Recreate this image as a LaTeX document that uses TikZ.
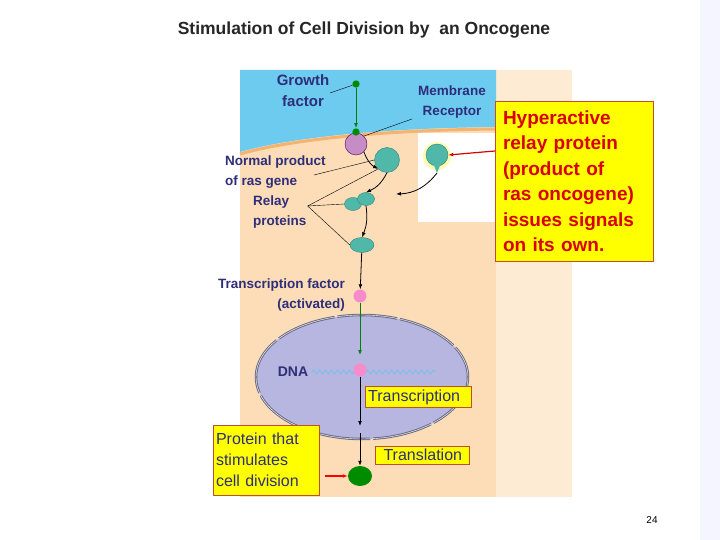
\documentclass[tikz,border=0pt]{standalone}
\usepackage{fontspec}
\setmainfont{Liberation Sans}
\usetikzlibrary{arrows.meta, positioning, decorations.pathmorphing, shapes.geometric}
\definecolor{peach}{HTML}{FCDDB8}
\definecolor{sky}{HTML}{6ECBF0}
\definecolor{membr}{HTML}{F4B36E}
\definecolor{navy}{HTML}{2E2E7A}
\definecolor{teal1}{HTML}{4FB8A8}
\definecolor{lav}{HTML}{B6B6E0}
\definecolor{yel}{HTML}{FFFF00}
\definecolor{boxred}{HTML}{C0502A}
\tikzset{
    lbl/.style={font=\fontsize{13.5}{20}\selectfont\bfseries, text=navy, inner sep=1pt},
    note/.style={fill=yel, draw=boxred, font=\fontsize{16}{21}\selectfont, align=left, inner sep=3pt},
    flow/.style={-{Latex[length=5pt]}, thick},
    lead/.style={thin},
    prot/.style={fill=teal1, draw=teal1!70!black, thin}
}
\begin{document}
\begin{tikzpicture}[x=1pt, y=-1pt]
        \useasboundingbox (0,0) rectangle (720,540);
        \fill[blue!4] (700,0) rectangle (720,540);
        \node[font=\fontsize{17.5}{20}\selectfont\bfseries, text=black!85] (title) at (364,30)
            {Stimulation of Cell Division by\ \ an Oncogene};
        % cell
        \fill[peach!60] (490,70) rectangle (572,497);
        \fill[peach] (240,70) rectangle (496,497);
        \fill[sky] (240,70) -- (496,70) -- (496,127)
            .. controls (400,128) and (300,135) .. (240,152) -- cycle;
        \draw[membr, line width=3pt] (496,129)
            .. controls (400,130) and (300,137) .. (240,154);
        % nucleus
        \draw[lav!60!black, line width=2.5pt, fill=lav, dash pattern=on 60pt off 3pt]
            (362,377) ellipse [x radius=106, y radius=62];
        \draw[white, thin, dash pattern=on 60pt off 3pt]
            (362,377) ellipse [x radius=106, y radius=62];
        \draw[cyan!70, decorate, decoration={zigzag, amplitude=2pt, segment length=6pt}]
            (312,372) -- (436,372);
        \node[lbl, font=\fontsize{14}{16}\selectfont\bfseries] (dna) at (293,372) {DNA};
        % side box
        \fill[white] (418,133) rectangle (497,222);
        \node[note, text=red!85!black, font=\fontsize{19}{25.5}\selectfont\bfseries,
            text width=142pt, minimum height=160pt, inner xsep=8pt] (hyper) at (574,181)
            {Hyperactive\\relay protein\\(product of\\ras oncogene)\\issues signals\\on its own.};
        % proteins
        \node[circle, fill=green!55!black, inner sep=2.6pt] (gf) at (356,84) {};
        \node[circle, fill=violet!45, draw=violet!60!black, thin, minimum size=22pt] (rec) at (356,144) {};
        \node[circle, fill=green!55!black, inner sep=2.6pt] (gfb) at (356,132) {};
        \node[circle, prot, minimum size=25pt] (ras) at (387,160) {};
        \fill[yellow!40, opacity=0.8] (437,156) circle (14);
        \node[circle, prot, minimum size=22pt] (hras) at (437,155) {};
        \fill[teal1] (433,163) -- (441,163) -- (437,173) -- cycle;
        \coordinate (htip) at (437,173);
        \node[ellipse, prot, minimum width=17pt, minimum height=13pt] (rel1a) at (353,204) {};
        \node[ellipse, prot, minimum width=17pt, minimum height=13pt] (rel1b) at (366,199) {};
        \node[ellipse, prot, minimum width=24pt, minimum height=15pt] (rel2) at (362,245) {};
        \node[circle, fill=magenta!45, minimum size=13pt, inner sep=0pt] (tf) at (360,296) {};
        \node[circle, fill=magenta!45, minimum size=13pt, inner sep=0pt] (tfd) at (360,370) {};
        \node[ellipse, fill=green!55!black, minimum width=24pt, minimum height=20pt] (prod) at (360,476) {};
        % labels
        \node[lbl, align=center, font=\fontsize{15}{21}\selectfont\bfseries] (gflab) at (303,91) {Growth\\factor};
        \node[lbl, align=center, font=\fontsize{13.5}{20}\selectfont\bfseries] (reclab) at (452,102) {Membrane\\Receptor};
        \node[lbl, align=left, anchor=west] (raslab) at (224,172) {Normal product\\of ras gene};
        \node[lbl, align=left, anchor=west] (rellab) at (252,212) {Relay\\proteins};
        \node[lbl, align=right, anchor=east] (tflab) at (346,295) {Transcription factor\\(activated)};
        \node[note, text=navy, anchor=west, text width=100pt] (trc) at (365,397) {Transcription};
        \node[note, text=navy, anchor=west, text width=88pt] (trl) at (375,455) {\ Translation};
        \node[note, text=navy, text width=100pt, minimum height=70pt] (plab) at (266,460)
            {Protein that\\stimulates\\cell division};
        \node[font=\fontsize{10}{11}\selectfont] (page) at (652,520) {24};
        % leader lines
        \draw[lead] (330,93) -- (gf);
        \draw[lead] (412,119) -- (rec.north east);
        \draw[lead] (314,175) -- (ras.west);
        \draw[lead] (rellab.east) ++(0,-6) coordinate (rl) -- (ras.south west);
        \draw[lead] (rl) -- (rel1a.west);
        \draw[lead] (rl) -- (rel2.west);
        % signal path
        \draw[flow, green!50!black] (gf) -- (gfb);
        \draw[flow] (rec.south east) to[bend right=20] (ras.south west);
        \draw[flow] (ras.south) to[bend left=20] (rel1b.north);
        \draw[flow] (rel1b.south) to[bend left=15] (rel2.north);
        \draw[flow] (rel2) -- (tf);
        \draw[flow, green!50!black] (tf.south) -- (360,355);
        \draw[flow] (tfd.south) -- (360,426);
        \draw[flow] (360,433) -- (prod.north);
        \draw[flow, red, very thick] (plab.east |- prod) ++(6,0) -- (prod.west);
        \draw[flow, red!85!black, very thick] (hyper.west |- 0,151) -- (hras.east);
        \draw[flow] (htip) to[bend left=25] (396,194);
    \end{tikzpicture}
\end{document}
